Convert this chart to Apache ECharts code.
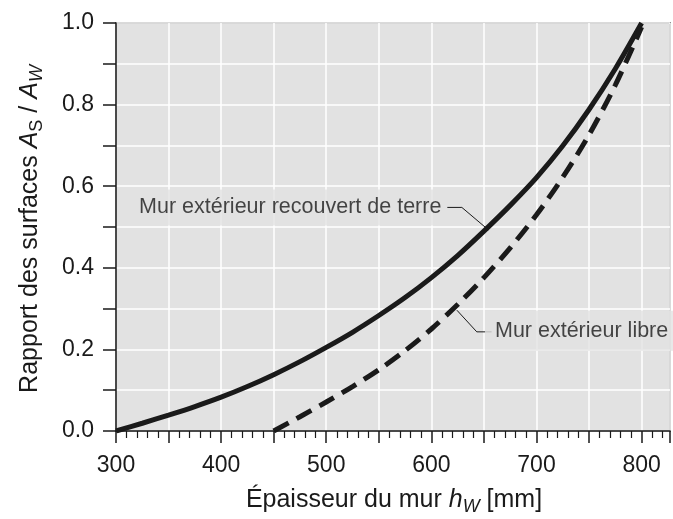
<!DOCTYPE html>
<html>
<head>
<meta charset="utf-8">
<script src="https://cdn.jsdelivr.net/npm/echarts@6/dist/echarts.min.js"></script>
<style>
html, body { margin: 0; padding: 0; background: #fff; }
#chart { width: 673px; height: 519px; }
</style>
</head>
<body>
<div id="chart"></div>
<script>
// épaisseur du mur [mm] et rapport As/Aw
var coveredThickness = [300, 325, 350, 375, 400, 425, 450, 475, 500, 525, 550, 575, 600, 625, 650, 675, 700, 725, 750, 775, 800];
var coveredRatio = [0, 0.019, 0.039, 0.06, 0.083, 0.109, 0.138, 0.17, 0.205, 0.242, 0.283, 0.327, 0.376, 0.43, 0.49, 0.553, 0.621, 0.699, 0.788, 0.888, 1.0];
var freeThickness = [450, 475, 500, 525, 550, 575, 600, 625, 650, 675, 700, 725, 750, 775, 800];
var freeRatio = [0, 0.035, 0.071, 0.109, 0.15, 0.197, 0.25, 0.31, 0.376, 0.449, 0.53, 0.622, 0.726, 0.848, 0.99];

var xTickLabels = [300, 400, 500, 600, 700, 800];
var yTickLabels = ['0.0', '0.2', '0.4', '0.6', '0.8', '1.0'];

// annotations (coordonnées dans les unités des axes)
var annotationTexts = ['Mur extérieur recouvert de terre', 'Mur extérieur libre'];
var annotationAnchors = [[301, 0.548], [651, 0.246]];
var coveredLeader = [[614.9, 0.548], [629, 0.548], [654.2, 0.493]];
var freeLeader = [[624.3, 0.296], [643.2, 0.243], [657.3, 0.243]];

function pairs(xs, ys) {
	return xs.map(function(x, i) { return [x, ys[i]]; });
}

var font = '"Liberation Sans", Arial, sans-serif';
var ink = '#1a1a1a';

var chart = echarts.init(document.getElementById('chart'));
chart.setOption({
	animation : false,
	textStyle : { fontFamily : font },
	grid : {
		left : 116,
		right : -2,
		top : 23,
		bottom : 88,
		show : true,
		backgroundColor : '#e2e2e2',
		borderColor : '#3c3c3c',
		borderWidth : 1.5
	},
	xAxis : {
		type : 'value',
		min : 300,
		max : 827,
		interval : 50,
		axisLine : { lineStyle : { color : ink, width : 1.5 } },
		axisTick : { length : 12, lineStyle : { color : ink, width : 1.5 } },
		minorTick : { show : true, splitNumber : 5, length : 7, lineStyle : { color : ink, width : 1.2 } },
		splitLine : { show : true, lineStyle : { color : '#fff', width : 1.5 } },
		axisLabel : {
			margin : 23,
			fontSize : 23,
			fontFamily : font,
			color : ink,
			formatter : function(v) { return xTickLabels.indexOf(v) >= 0 ? String(v) : ''; }
		}
	},
	yAxis : {
		type : 'value',
		min : 0,
		max : 1,
		interval : 0.1,
		axisLine : { show : true, lineStyle : { color : ink, width : 1.5 } },
		axisTick : { show : true, length : 13, lineStyle : { color : ink, width : 1.5 } },
		splitLine : { show : true, lineStyle : { color : '#fff', width : 1.5 } },
		axisLabel : {
			margin : 22,
			fontSize : 23,
			fontFamily : font,
			color : ink,
			formatter : function(v) {
				var s = v.toFixed(1);
				return yTickLabels.indexOf(s) >= 0 ? s : '';
			}
		}
	},
	series : [ {
		name : 'recouvert',
		type : 'line',
		data : pairs(coveredThickness, coveredRatio),
		smooth : 0.3,
		symbol : 'none',
		lineStyle : { color : ink, width : 5 },
		z : 3
	}, {
		name : 'libre',
		type : 'line',
		data : pairs(freeThickness, freeRatio),
		smooth : 0.3,
		symbol : 'none',
		lineStyle : { color : ink, width : 5, type : [17, 9] },
		z : 3
	}, {
		type : 'line',
		data : coveredLeader,
		symbol : 'none',
		lineStyle : { color : ink, width : 1 },
		z : 2
	}, {
		type : 'line',
		data : freeLeader,
		symbol : 'none',
		lineStyle : { color : ink, width : 1 },
		z : 2
	}, {
		type : 'scatter',
		symbolSize : 0,
		silent : true,
		data : [ {
			name : annotationTexts[0],
			value : annotationAnchors[0],
			label : { padding : [7, 6, 7, 22] }
		}, {
			name : annotationTexts[1],
			value : annotationAnchors[1],
			label : { padding : [9, 20, 9, 10] }
		} ],
		label : {
			show : true,
			position : 'right',
			distance : 0,
			formatter : '{b}',
			fontSize : 21.5,
			fontFamily : font,
			color : ink,
			backgroundColor : '#e2e2e2'
		}
	} ],
	graphic : [ {
		type : 'text',
		x : 394,
		y : 500,
		style : {
			text : 'Épaisseur du mur {i|h}{sub|W} [mm]',
			fontSize : 25,
			fontFamily : font,
			fill : ink,
			align : 'center',
			verticalAlign : 'middle',
			rich : {
				i : { fontSize : 25, fontFamily : font, fontStyle : 'italic', fill : ink },
				sub : { fontSize : 18, fontFamily : font, fontStyle : 'italic', fill : ink, padding : [14, 0, 0, 0] }
			}
		}
	}, {
		type : 'text',
		x : 30,
		y : 229,
		rotation : Math.PI / 2,
		style : {
			text : 'Rapport des surfaces {i|A}{sub|S} / {i|A}{subi|W}',
			fontSize : 25,
			fontFamily : font,
			fill : ink,
			align : 'center',
			verticalAlign : 'middle',
			rich : {
				i : { fontSize : 25, fontFamily : font, fontStyle : 'italic', fill : ink },
				sub : { fontSize : 18, fontFamily : font, fill : ink, padding : [14, 0, 0, 0] },
				subi : { fontSize : 18, fontFamily : font, fontStyle : 'italic', fill : ink, padding : [14, 0, 0, 0] }
			}
		}
	} ]
});
</script>
</body>
</html>
